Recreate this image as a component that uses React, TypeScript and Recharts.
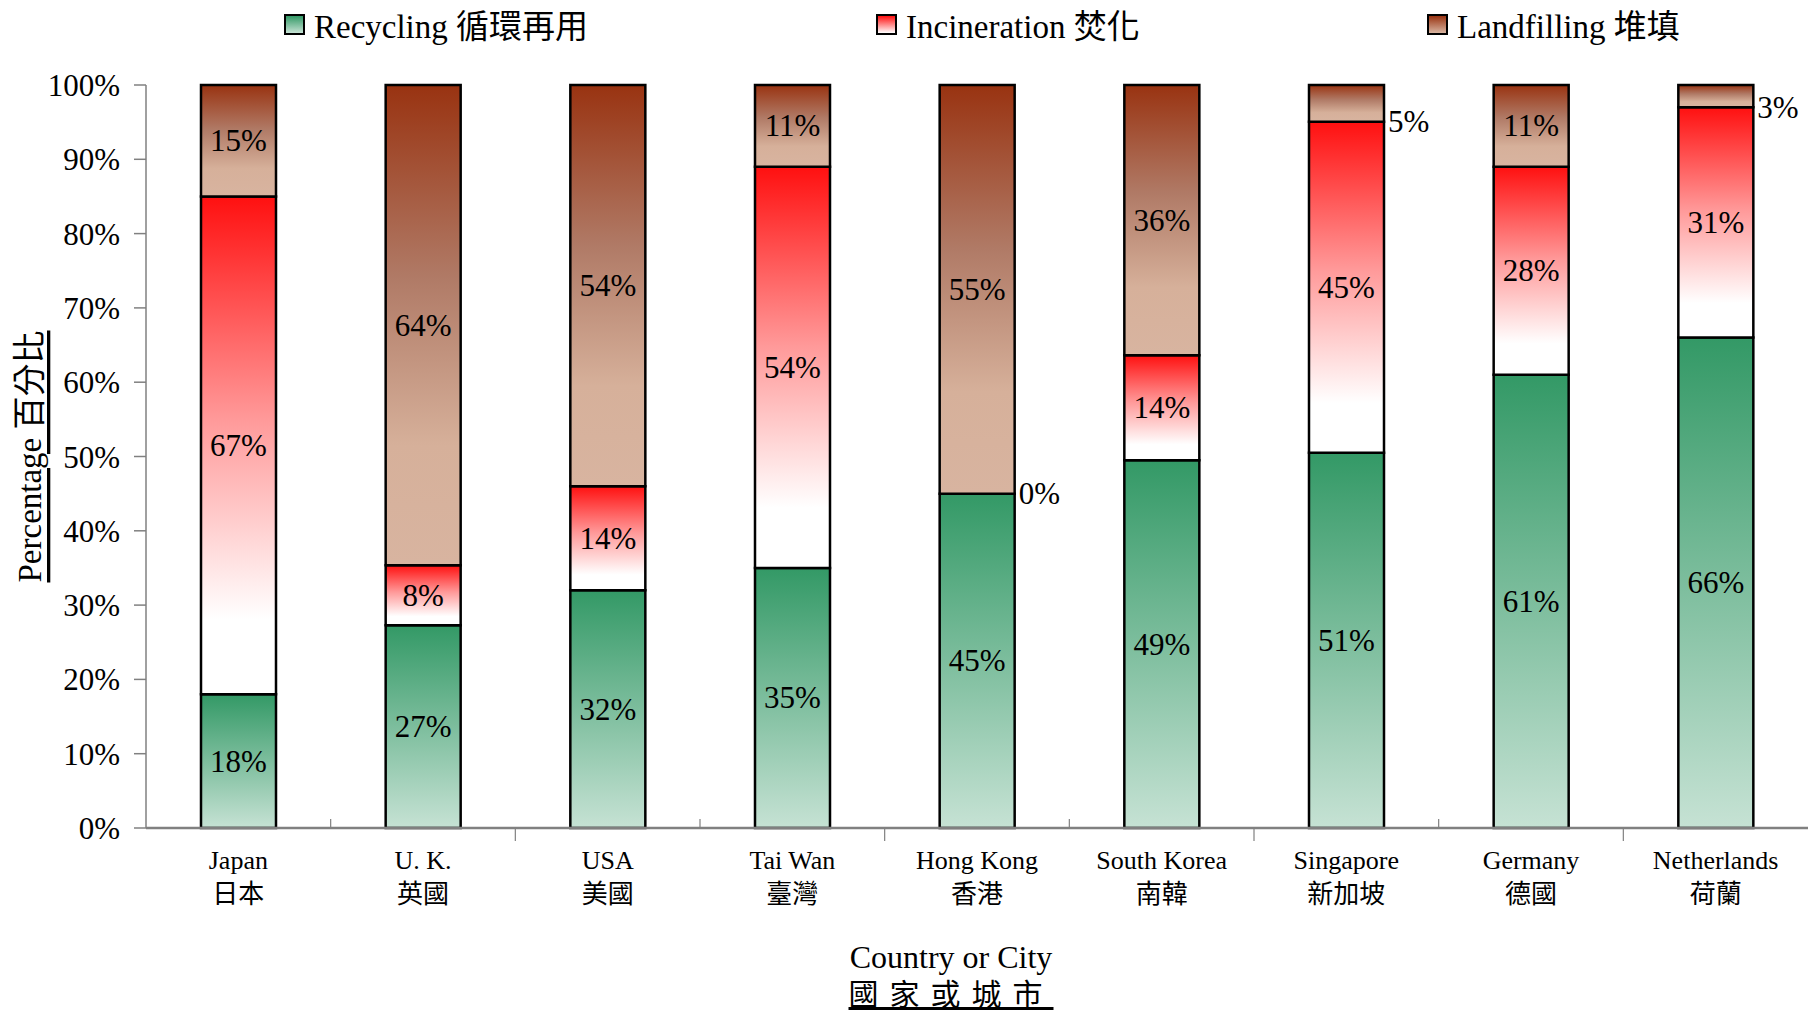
import { Bar, BarChart, LabelList, XAxis, YAxis } from "recharts"

const countries = ["Japan", "U. K.", "USA", "Tai Wan", "Hong Kong", "South Korea", "Singapore", "Germany", "Netherlands"]
const countriesZh = ["日本", "英國", "美國", "臺灣", "香港", "南韓", "新加坡", "德國", "荷蘭"]
const recycling = [18, 27, 32, 35, 45, 49, 51, 61, 66]
const incineration = [67, 8, 14, 54, 0, 14, 45, 28, 31]
const landfilling = [15, 64, 54, 11, 55, 36, 5, 11, 3]
const yTicks = [0, 0.1, 0.2, 0.3, 0.4, 0.5, 0.6, 0.7, 0.8, 0.9, 1]

const seriesNames = ["Recycling 循環再用", "Incineration 焚化", "Landfilling 堆填"]

const rows = countries.map((name, i) => ({
  name,
  zh: countriesZh[i],
  recycling: recycling[i],
  incineration: incineration[i],
  landfilling: landfilling[i],
}))

const W = 1808
const H = 1014
const TOP = 85
const Y_W = 146
const X_H = 186
const band = (W - Y_W) / countries.length

const FONT = "'Liberation Serif', 'Times New Roman', 'Noto Sans CJK TC', serif"
const GRID = "#808080"

// css versions of the svg gradients, for the legend swatches
const swatches = [
  "linear-gradient(#339966, #c6e2d4)",
  "linear-gradient(#ff1010, #ffffff)",
  "linear-gradient(#993311, #d8b4a0)",
]
const legendX = [284, 876, 1427]

function ValueLabel(props: any) {
  const { x, y, width, height, value } = props
  const v = Number(value ?? 0)
  if (v < 6) {
    // small slices get their label outside, right of the bar
    return (
      <text x={x + width + 4} y={y + height} dominantBaseline="central" fontSize={31} fontFamily={FONT} fill="#000">
        {v}%
      </text>
    )
  }
  return (
    <text x={x + width / 2} y={y + height / 2} textAnchor="middle" dominantBaseline="central" fontSize={31} fontFamily={FONT} fill="#000">
      {v}%
    </text>
  )
}

// recharts drops labels of zero-height slices, so an empty incineration
// slice is labelled from the landfill bar sitting right on top of it
function ZeroIncLabel(props: any) {
  const { x, y, width, height, index } = props
  if (incineration[index] !== 0) return null
  return (
    <text x={x + width + 4} y={y + height} dominantBaseline="central" fontSize={31} fontFamily={FONT} fill="#000">
      {incineration[index]}%
    </text>
  )
}

function CountryTick(props: any) {
  const { x, y, payload } = props
  const i = payload.index
  const bx = x + band / 2
  return (
    <g>
      {i < countries.length - 1 && (
        <line x1={bx} x2={bx} y1={i % 2 === 0 ? y - 9 : y} y2={i % 2 === 0 ? y : y + 13} stroke={GRID} strokeWidth={1.2} />
      )}
      <text x={x} y={y + 41} textAnchor="middle" fontSize={26} fontFamily={FONT} fill="#000">
        {payload.value}
      </text>
      <text x={x} y={y + 75} textAnchor="middle" fontSize={26} fontFamily={FONT} fill="#000">
        {countriesZh[i]}
      </text>
    </g>
  )
}

function YTitle(props: any) {
  const vb = props.viewBox
  const cx = vb.x + 30
  const cy = vb.y + vb.height / 2
  return (
    <text
      x={cx}
      y={cy}
      transform={`rotate(-90 ${cx} ${cy})`}
      textAnchor="middle"
      dominantBaseline="central"
      fontSize={33}
      fontFamily={FONT}
      textDecoration="underline"
      fill="#000"
    >
      Percentage 百分比
    </text>
  )
}

function XTitle(props: any) {
  const vb = props.viewBox
  const cx = vb.x + vb.width / 2 - 26
  return (
    <g>
      <text x={cx} y={vb.y + 140} textAnchor="middle" fontSize={32} fontFamily={FONT} fill="#000">
        Country or City
      </text>
      <text x={cx} y={vb.y + 177} textAnchor="middle" fontSize={30} letterSpacing={11} fontFamily={FONT} textDecoration="underline" fill="#000">
        國家或城市
      </text>
    </g>
  )
}

export default function App() {
  return (
    <div style={{ position: "relative", width: W, height: H, background: "#fff" }}>
      <style>{"body{margin:0}"}</style>
      {seriesNames.map((s, i) => (
        <div
          key={s}
          style={{
            position: "absolute",
            left: legendX[i],
            top: 0,
            display: "flex",
            alignItems: "center",
            fontFamily: FONT,
            fontSize: 33,
            color: "#000",
          }}
        >
          <span
            style={{
              display: "inline-block",
              width: 17,
              height: 17,
              border: "2px solid #000",
              background: swatches[i],
              marginRight: 9,
            }}
          />
          {s}
        </div>
      ))}
      <BarChart
        width={W}
        height={H}
        data={rows}
        stackOffset="expand"
        margin={{ top: TOP, right: 0, bottom: 0, left: 0 }}
      >
        <defs>
          <linearGradient id="g-rec" x1="0" y1="0" x2="0" y2="1">
            <stop offset="0%" stopColor="#339966" />
            <stop offset="100%" stopColor="#c6e2d4" />
          </linearGradient>
          <linearGradient id="g-inc" x1="0" y1="0" x2="0" y2="1">
            <stop offset="0%" stopColor="#ff1010" />
            <stop offset="45%" stopColor="#ff9a9a" />
            <stop offset="85%" stopColor="#ffffff" />
            <stop offset="100%" stopColor="#ffffff" />
          </linearGradient>
          <linearGradient id="g-land" x1="0" y1="0" x2="0" y2="1">
            <stop offset="0%" stopColor="#993311" />
            <stop offset="40%" stopColor="#b07a66" />
            <stop offset="75%" stopColor="#d6b09a" />
            <stop offset="100%" stopColor="#d8b4a0" />
          </linearGradient>
        </defs>
        <XAxis
          dataKey="name"
          height={X_H}
          interval={0}
          tickLine={false}
          tickSize={0}
          tickMargin={0}
          axisLine={{ stroke: GRID, strokeWidth: 2.5 }}
          tick={<CountryTick />}
          label={<XTitle />}
        />
        <YAxis
          width={Y_W}
          domain={[0, 1]}
          ticks={yTicks}
          interval={0}
          tickSize={12}
          tickMargin={14}
          tickFormatter={(v: number) => `${Math.round(v * 100)}%`}
          tick={{ fill: "#000", fontSize: 31, fontFamily: FONT }}
          tickLine={{ stroke: GRID, strokeWidth: 1.5 }}
          axisLine={{ stroke: GRID, strokeWidth: 1.5 }}
          label={<YTitle />}
        />
        <Bar dataKey="recycling" stackId="a" barSize={75} fill="url(#g-rec)" stroke="#000" strokeWidth={2.5} isAnimationActive={false}>
          <LabelList dataKey="recycling" content={<ValueLabel />} />
        </Bar>
        <Bar dataKey="incineration" stackId="a" barSize={75} fill="url(#g-inc)" stroke="#000" strokeWidth={2.5} isAnimationActive={false}>
          <LabelList dataKey="incineration" content={<ValueLabel />} />
        </Bar>
        <Bar dataKey="landfilling" stackId="a" barSize={75} fill="url(#g-land)" stroke="#000" strokeWidth={2.5} isAnimationActive={false}>
          <LabelList dataKey="landfilling" content={<ValueLabel />} />
          <LabelList dataKey="landfilling" content={<ZeroIncLabel />} />
        </Bar>
      </BarChart>
    </div>
  )
}
